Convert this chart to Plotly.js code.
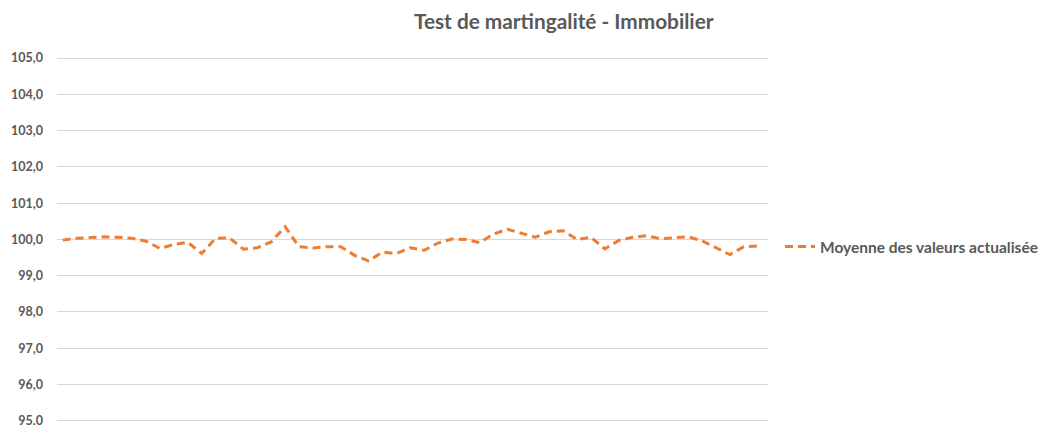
<!DOCTYPE html>
<html>
<head>
<meta charset="utf-8">
<script src="https://cdn.plot.ly/plotly-3.0.1.min.js"></script>
<style>html,body{margin:0;padding:0;background:#fff;}#chart{width:1042px;height:425px;}</style>
</head>
<body>
<div id="chart"></div>
<script>
const chartTitle = "Test de martingalité - Immobilier";
const seriesName = "Moyenne des valeurs actualisée";
const periods = Array.from({length: 51}, (_, i) => i + 1);
const values = [
  99.98, 100.03, 100.05, 100.07, 100.06, 100.03, 99.95, 99.75, 99.86, 99.92,
  99.61, 100.03, 100.04, 99.73, 99.77, 99.93, 100.35, 99.80, 99.76, 99.80,
  99.80, 99.56, 99.41, 99.65, 99.61, 99.77, 99.70, 99.90, 100.01, 100.00,
  99.91, 100.15, 100.28, 100.18, 100.06, 100.21, 100.24, 100.00, 100.06, 99.74,
  99.97, 100.06, 100.10, 100.02, 100.05, 100.07, 99.96, 99.78, 99.58, 99.80,
  99.82
];
const yTicks = [95, 96, 97, 98, 99, 100, 101, 102, 103, 104, 105];

const font = "Lato, 'Open Sans', sans-serif";
const grey = "#595959";

const trace = {
  x: periods,
  y: values,
  type: "scatter",
  mode: "lines",
  name: seriesName,
  line: {color: "#ED7D31", width: 3, dash: "8px,5px"}
};

const layout = {
  width: 1042,
  height: 425,
  margin: {l: 57, r: 274, t: 57, b: 3, pad: 0},
  paper_bgcolor: "#fff",
  plot_bgcolor: "#fff",
  separators: ", ",
  font: {family: font, color: grey},
  title: {
    text: chartTitle,
    font: {family: font, size: 20.8, color: grey, weight: "bold"},
    xref: "container", yref: "container",
    x: 0.541, xanchor: "center",
    y: 0.949, yanchor: "middle"
  },
  xaxis: {
    range: [0.59, 51.74],
    showgrid: false, zeroline: false, showline: false,
    showticklabels: false, ticks: ""
  },
  yaxis: {
    range: [94.965, 105.03],
    tickvals: yTicks,
    tickformat: ".1f",
    showgrid: true, gridcolor: "#D9D9D9", gridwidth: 1,
    zeroline: false, showline: false, ticks: "",
    ticklabelstandoff: 13,
    ticklabeloverflow: "allow",
    tickfont: {family: font, size: 12.5, color: grey, weight: "bold"}
  },
  showlegend: true,
  legend: {
    x: 780/1042, xref: "container", xanchor: "left",
    y: 1 - 247/425, yref: "container", yanchor: "middle",
    font: {family: font, size: 15.5, color: grey, weight: "bold"},
    bgcolor: "rgba(0,0,0,0)"
  }
};

Plotly.newPlot("chart", [trace], layout, {displayModeBar: false, staticPlot: true});
</script>
</body>
</html>
